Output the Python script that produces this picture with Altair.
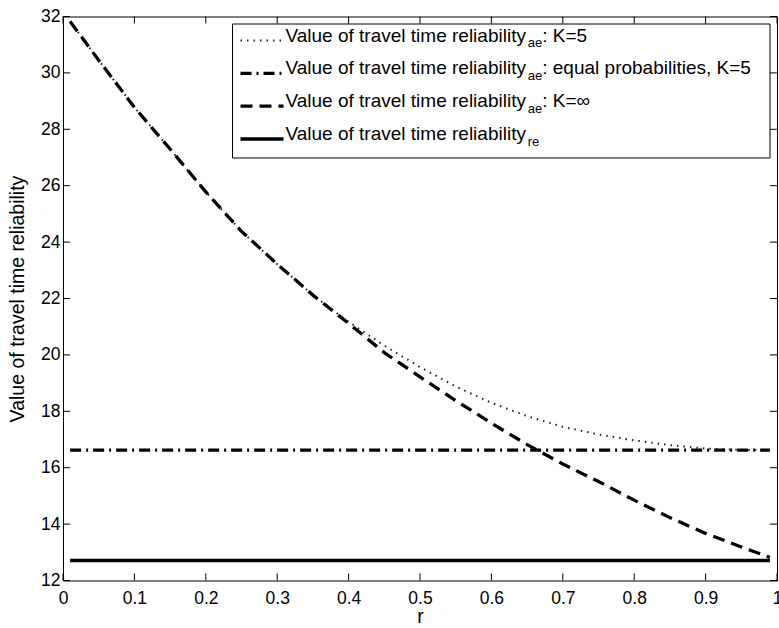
import altair as alt
import pandas as pd

# ---------------- data ----------------
r_vals = [0.01, 0.05, 0.10, 0.15, 0.20, 0.25, 0.30, 0.35, 0.40, 0.45, 0.50,
          0.55, 0.60, 0.65, 0.70, 0.75, 0.80, 0.85, 0.90, 0.95, 0.99]
vttr_ae_kinf = [31.82, 30.45, 28.78, 27.30, 25.78, 24.38, 23.22, 22.12, 21.12, 20.08, 19.22,
                18.38, 17.58, 16.82, 16.13, 15.51, 14.85, 14.23, 13.67, 13.19, 12.82]
vttr_ae_k5 = [31.82, 30.45, 28.78, 27.30, 25.78, 24.38, 23.22, 22.12, 21.17, 20.33, 19.57,
              18.88, 18.30, 17.83, 17.45, 17.18, 16.97, 16.80, 16.68, 16.63, 16.62]
r_flat = [0.01, 0.99]
vttr_ae_equal = [16.62, 16.62]
vttr_re = [12.71, 12.71]

x_ticks = [0, 0.1, 0.2, 0.3, 0.4, 0.5, 0.6, 0.7, 0.8, 0.9, 1]
y_ticks = [12, 14, 16, 18, 20, 22, 24, 26, 28, 30, 32]

legend_main = "Value of travel time reliability"
legend_subs = ["ae", "ae", "ae", "re"]
legend_suffix = [": K=5", ": equal probabilities, K=5", ": K=\u221e", ""]

# ---------------- layout / style ----------------
W, H = 714, 564
PAD_L, PAD_T = 63, 16.5
FONT = "Liberation Sans"
TICK_FS = 17.5
LAB_FS = 19.5
LEG_FS = 19
SUB_FS = 13

styles = [
    dict(strokeDash=[1.5, 5], strokeWidth=2, color="#222222"),       # K=5 dotted
    dict(strokeDash=[11, 5, 2, 5], strokeWidth=3.3, color="black"),  # equal prob dash-dot
    dict(strokeDash=[12, 7], strokeWidth=3.3, color="black"),        # K=inf dashed
    dict(strokeDash=[1, 0], strokeWidth=3.6, color="black"),         # re solid
]

xscale = alt.Scale(domain=[0, 1], nice=False, zero=False)
yscale = alt.Scale(domain=[12, 32], nice=False, zero=False)

x_axis = alt.Axis(values=x_ticks, format="~g", title="r", domain=False, ticks=False,
                  tickSize=0, grid=False, labelFont=FONT, labelFontSize=TICK_FS,
                  labelColor="black", labelPadding=9, labelFlush=False, labelOverlap=False,
                  titleFont=FONT, titleFontSize=LAB_FS, titleFontWeight="normal",
                  titleColor="black", titleX=W / 2, titleY=41.5, titleBaseline="alphabetic",
                  titleAlign="center")
y_axis = alt.Axis(values=y_ticks, format="d", title="Value of travel time reliability",
                  domain=False, ticks=False, tickSize=0, grid=False, labelFont=FONT,
                  labelFontSize=TICK_FS, labelColor="black", labelPadding=3,
                  labelFlush=False, labelOverlap=False, titleFont=FONT,
                  titleFontSize=LAB_FS, titleFontWeight="normal", titleColor="black",
                  titleAngle=270, titleX=-45.5, titleY=H / 2, titleAlign="center",
                  titleBaseline="middle")

series = [
    (r_vals, vttr_ae_k5),
    (r_flat, vttr_ae_equal),
    (r_vals, vttr_ae_kinf),
    (r_flat, vttr_re),
]

layers = []
for i, ((xs, ys), st) in enumerate(zip(series, styles)):
    df = pd.DataFrame({"r": xs, "v": ys})
    layers.append(
        alt.Chart(df).mark_line(strokeDash=st["strokeDash"], strokeWidth=st["strokeWidth"],
                                color=st["color"], clip=True)
        .encode(x=alt.X("r:Q", scale=xscale, axis=x_axis),
                y=alt.Y("v:Q", scale=yscale, axis=y_axis))
    )

# inward ticks on all four sides (MATLAB box style)
xt = pd.DataFrame({"r": x_ticks})
yt = pd.DataFrame({"v": y_ticks})
TL = 7
for (y1, y2) in [(0, TL), (H, H - TL)]:
    layers.append(alt.Chart(xt).mark_rule(color="black", strokeWidth=1)
                  .encode(x=alt.X("r:Q", scale=xscale, axis=x_axis),
                          y=alt.value(y1), y2=alt.value(y2)))
for (x1, x2) in [(0, TL), (W, W - TL)]:
    layers.append(alt.Chart(yt).mark_rule(color="black", strokeWidth=1)
                  .encode(y=alt.Y("v:Q", scale=yscale, axis=y_axis),
                          x=alt.value(x1), x2=alt.value(x2)))

# legend (drawn by hand, to allow subscripts)
one = pd.DataFrame({"a": [0]})
box = dict(x0=232.5 - PAD_L, x1=770 - PAD_L, y0=24 - PAD_T, y1=158 - PAD_T)
layers.append(alt.Chart(one).mark_rect(fill="white", stroke="black", strokeWidth=1)
              .encode(x=alt.value(box["x0"]), x2=alt.value(box["x1"]),
                      y=alt.value(box["y0"]), y2=alt.value(box["y1"])))

row_y = [40.5, 73.3, 106.2, 139.0]
sym_x0, sym_x1 = 240.5 - PAD_L, 283.5 - PAD_L
text_x = 285.5 - PAD_L
main_w = 12.726 * LEG_FS
sub_w = {"ae": 1.112 * SUB_FS, "re": 0.889 * SUB_FS}
for i, st in enumerate(styles):
    yy = row_y[i] - PAD_T
    layers.append(alt.Chart(one).mark_rule(strokeDash=st["strokeDash"],
                                           strokeWidth=st["strokeWidth"], color=st["color"])
                  .encode(x=alt.value(sym_x0), x2=alt.value(sym_x1),
                          y=alt.value(yy), y2=alt.value(yy)))
    base = yy + 1.0
    layers.append(alt.Chart(one).mark_text(text=legend_main, align="left",
                                           baseline="alphabetic", font=FONT,
                                           fontSize=LEG_FS, color="black")
                  .encode(x=alt.value(text_x), y=alt.value(base)))
    sx = text_x + main_w + 0.5
    layers.append(alt.Chart(one).mark_text(text=legend_subs[i], align="left",
                                           baseline="alphabetic", font=FONT,
                                           fontSize=SUB_FS, color="black")
                  .encode(x=alt.value(sx), y=alt.value(base + 5.5)))
    if legend_suffix[i]:
        layers.append(alt.Chart(one).mark_text(text=legend_suffix[i], align="left",
                                               baseline="alphabetic", font=FONT,
                                               fontSize=LEG_FS, color="black")
                      .encode(x=alt.value(sx + sub_w[legend_subs[i]]), y=alt.value(base)))

chart = alt.layer(*layers).properties(
    width=W, height=H,
    autosize=alt.AutoSizeParams(type="none"),
    padding={"left": PAD_L, "top": PAD_T, "right": 779 - PAD_L - W,
             "bottom": 628 - PAD_T - H},
    background="white",
).configure_view(stroke="black", strokeWidth=1)

chart.save("out.html", embed_options={"renderer": "svg", "actions": False})
